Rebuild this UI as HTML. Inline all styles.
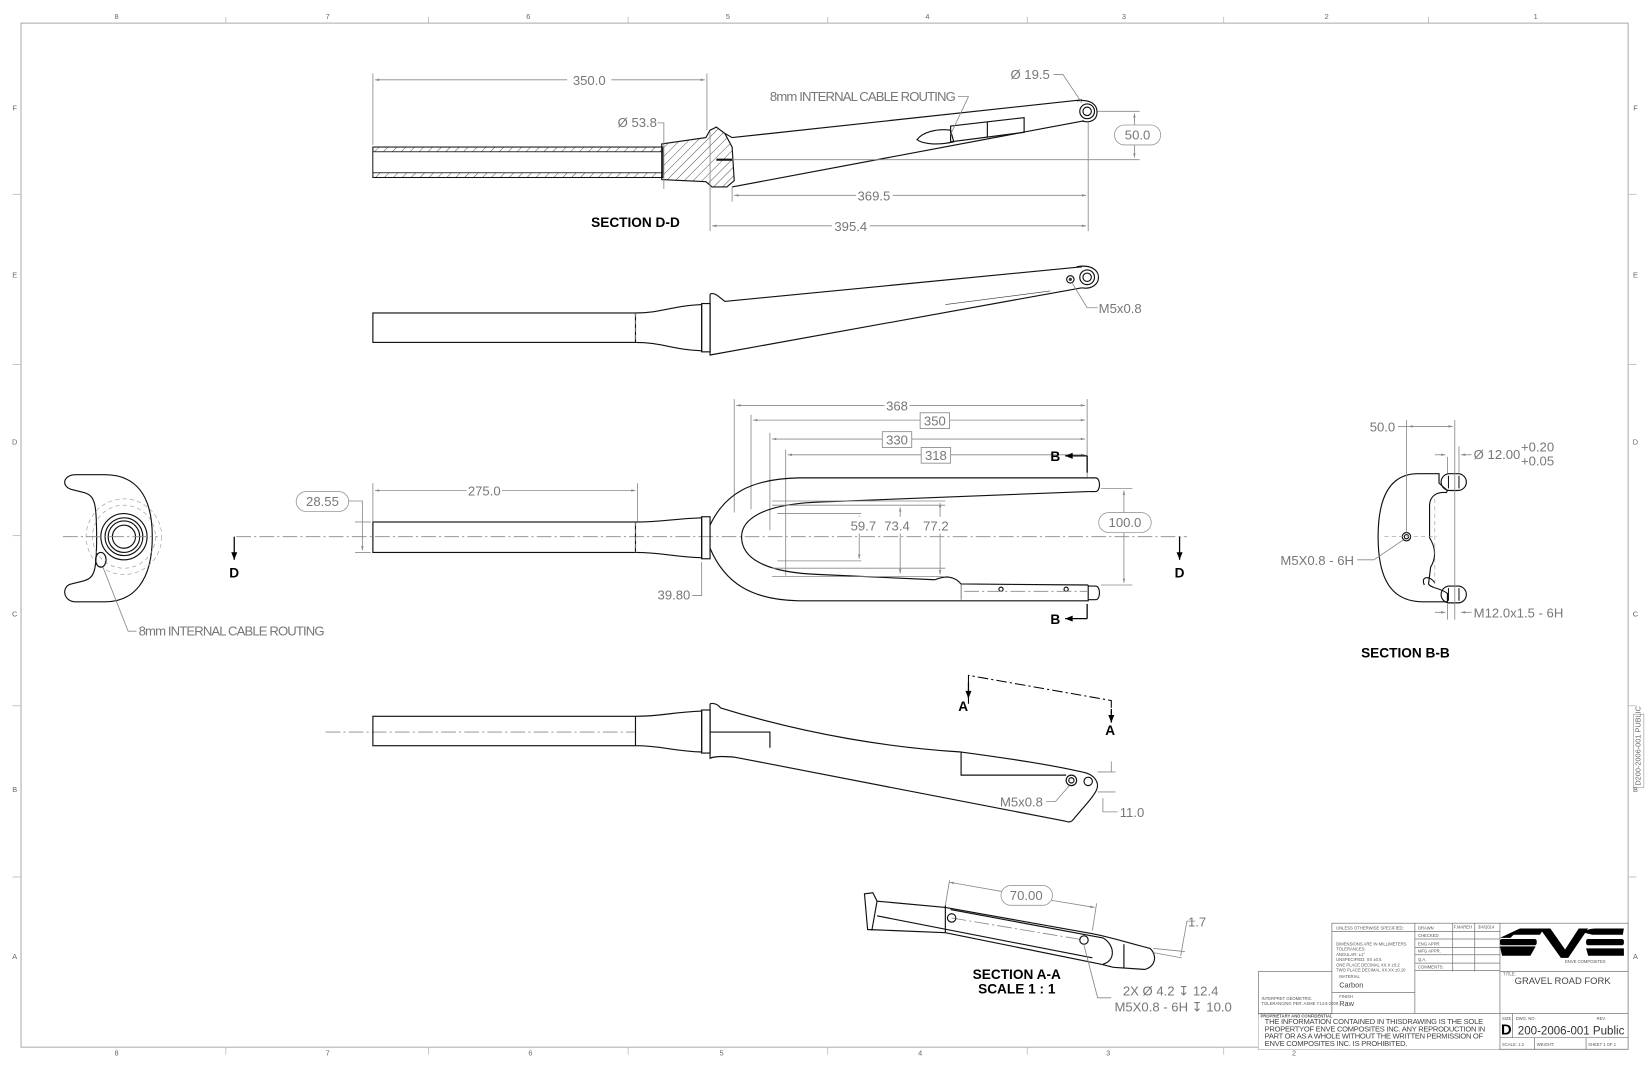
<!DOCTYPE html>
<html><head><meta charset="utf-8"><style>
html,body{margin:0;padding:0;background:#fff;}
svg{display:block;}
text{font-family:"Liberation Sans",sans-serif;}
.d{fill:#777;font-size:12.5px;}
.o{fill:none;stroke:#111;stroke-width:1.1;}
.g{fill:none;stroke:#888;stroke-width:0.8;}
.c{fill:none;stroke:#888;stroke-width:0.8;stroke-dasharray:14 3 2 3;}
.h{fill:none;stroke:#999;stroke-width:0.6;stroke-dasharray:4 3;}
.t{fill:#000;font-weight:bold;font-size:13px;}
.z{fill:#666;font-size:7px;}
.s{fill:#555;font-size:4px;}
</style></head><body>
<svg width="1647" height="1065" viewBox="0 0 1568 1014" preserveAspectRatio="none">
<defs>
<pattern id="hat" width="6" height="6" patternUnits="userSpaceOnUse" patternTransform="rotate(45)"><line x1="0" y1="0" x2="0" y2="6" stroke="#333" stroke-width="0.8"/></pattern>
<marker id="ar" viewBox="0 0 10 10" refX="10" refY="5" markerWidth="7" markerHeight="5" orient="auto-start-reverse"><path d="M0,2 L10,5 L0,8z" fill="#888"/></marker>
<marker id="ab" viewBox="0 0 10 10" refX="10" refY="5" markerWidth="8" markerHeight="6" orient="auto"><path d="M0,1 L10,5 L0,9z" fill="#000"/></marker>
</defs>
<!-- border -->
<rect x="20" y="22" width="1530" height="975" fill="none" stroke="#999" stroke-width="0.8"/>
<g stroke="#bbb" stroke-width="0.8">
<line x1="215" y1="16" x2="215" y2="22"/><line x1="408" y1="16" x2="408" y2="22"/><line x1="598" y1="16" x2="598" y2="22"/><line x1="788" y1="16" x2="788" y2="22"/><line x1="978" y1="16" x2="978" y2="22"/><line x1="1165" y1="16" x2="1165" y2="22"/><line x1="1360" y1="16" x2="1360" y2="22"/>
<line x1="215" y1="997" x2="215" y2="1004"/><line x1="408" y1="997" x2="408" y2="1004"/><line x1="598" y1="997" x2="598" y2="1004"/><line x1="788" y1="997" x2="788" y2="1004"/><line x1="978" y1="997" x2="978" y2="1004"/><line x1="1165" y1="997" x2="1165" y2="1004"/>
<line x1="12" y1="185" x2="20" y2="185"/><line x1="12" y1="347" x2="20" y2="347"/><line x1="12" y1="510" x2="20" y2="510"/><line x1="12" y1="672" x2="20" y2="672"/><line x1="12" y1="835" x2="20" y2="835"/>
<line x1="1550" y1="185" x2="1558" y2="185"/><line x1="1550" y1="347" x2="1558" y2="347"/><line x1="1550" y1="672" x2="1558" y2="672"/><line x1="1550" y1="835" x2="1558" y2="835"/>
</g>
<g class="z" text-anchor="middle">
<text x="111" y="18">8</text><text x="312" y="18">7</text><text x="503" y="18">6</text><text x="693" y="18">5</text><text x="883" y="18">4</text><text x="1070" y="18">3</text><text x="1263" y="18">2</text><text x="1462" y="18">1</text>
<text x="111" y="1005">8</text><text x="312" y="1005">7</text><text x="505" y="1005">6</text><text x="687" y="1005">5</text><text x="876" y="1005">4</text><text x="1055" y="1005">3</text><text x="1232" y="1005">2</text>
<text x="14" y="105">F</text><text x="14" y="264">E</text><text x="14" y="423">D</text><text x="14" y="587">C</text><text x="14" y="754">B</text><text x="14" y="913">A</text>
<text x="1557" y="105">F</text><text x="1557" y="264">E</text><text x="1557" y="423">D</text><text x="1557" y="587">C</text><text x="1557" y="754">B</text><text x="1557" y="913">A</text>
</g>
<rect x="1555" y="680" width="10" height="70" fill="none" stroke="#999" stroke-width="0.6"/>
<text x="0" y="0" class="z" transform="translate(1562,748) rotate(-90)" font-size="6">D200-2006-001 PUBLIC</text>

<!-- ===== SECTION D-D ===== -->
<line class="g" x1="355" y1="70" x2="355" y2="138"/><line class="g" x1="673" y1="70" x2="673" y2="124"/>
<line class="g" x1="357" y1="76" x2="540" y2="76" marker-start="url(#ar)"/><line class="g" x1="582" y1="76" x2="671" y2="76" marker-end="url(#ar)"/>
<text class="d" x="561" y="81" text-anchor="middle">350.0</text>
<rect x="355" y="140" width="276" height="29" fill="url(#hat)" stroke="#111" stroke-width="1"/>
<rect x="355" y="144.5" width="276" height="20" fill="#fff" stroke="#111" stroke-width="0.8"/>
<path d="M630,137 L672,131 L676,124 L682,121 L690,127 L697,140 L699,172 L692,178 L678,178 L672,173 L630,171 Z" fill="url(#hat)" stroke="#111" stroke-width="1.1"/>
<line x1="682" y1="152" x2="697" y2="152" stroke="#111" stroke-width="2"/>
<text class="d" x="588" y="121">Ø 53.8</text>
<polyline class="g" points="626,117 632,117 632,180"/>
<path class="o" d="M690,127 L697,131 L1030,95 M697,178 L1032,115"/>
<path class="o" d="M1025,96 C1040,94 1046,101 1044,110 C1042,116 1035,117 1030,115"/>
<circle class="o" cx="1035" cy="106" r="7"/><circle class="o" cx="1035" cy="106" r="4"/>
<path class="o" d="M873,133 C878,126 892,122 905,124 L908,135 C895,138 880,138 873,133 Z"/>
<path class="o" d="M905,120 L975,112 L975,126 L905,135 Z"/>
<line class="o" x1="940" y1="116" x2="940" y2="131"/>
<line class="g" x1="697" y1="152" x2="1085" y2="152"/>
<line class="g" x1="1045" y1="106" x2="1085" y2="106"/>
<line class="g" x1="1080" y1="108" x2="1080" y2="150" marker-start="url(#ar)" marker-end="url(#ar)"/>
<rect x="1061" y="119" width="44" height="19" rx="9.5" fill="#fff" stroke="#999" stroke-width="0.8"/>
<text class="d" x="1083" y="133" text-anchor="middle">50.0</text>
<text class="d" x="962" y="75">Ø 19.5</text>
<polyline class="g" points="1003,71 1012,71 1030,98"/>
<text class="d" x="733" y="96" font-size="11.5" textLength="177">8mm INTERNAL CABLE ROUTING</text>
<polyline class="g" points="912,92 922,92 905,128"/>
<line class="g" x1="697" y1="178" x2="697" y2="192"/><line class="g" x1="676" y1="126" x2="676" y2="220"/><line class="g" x1="1036" y1="116" x2="1036" y2="220"/>
<line class="g" x1="699" y1="186" x2="815" y2="186" marker-start="url(#ar)"/><line class="g" x1="850" y1="186" x2="1034" y2="186" marker-end="url(#ar)"/>
<text class="d" x="832" y="191" text-anchor="middle">369.5</text>
<line class="g" x1="678" y1="215" x2="792" y2="215" marker-start="url(#ar)"/><line class="g" x1="828" y1="215" x2="1034" y2="215" marker-end="url(#ar)"/>
<text class="d" x="810" y="220" text-anchor="middle">395.4</text>
<text class="t" x="605" y="216" text-anchor="middle">SECTION D-D</text>

<!-- ===== SIDE VIEW 2 ===== -->
<rect class="o" x="355" y="298" width="250" height="28"/>
<path class="o" d="M605,298 C630,298 640,291 668,290 L668,334 C640,333 630,326 605,326"/>
<line class="h" x1="605" y1="298" x2="605" y2="326"/>
<rect class="o" x="668" y="289" width="8" height="46"/>
<path class="o" d="M676,280 C680,278 684,282 690,287 L1030,254 M676,280 L676,338 L1030,274"/>
<path class="o" d="M1025,254 C1042,251 1048,260 1045,268 C1042,274 1035,275 1030,274"/>
<circle class="o" cx="1035" cy="264" r="7"/><circle class="o" cx="1035" cy="264" r="4"/>
<circle class="o" cx="1019" cy="266" r="3.5"/><circle cx="1019" cy="266" r="1.5" fill="#333"/>
<line x1="900" y1="290" x2="1000" y2="277" stroke="#333" stroke-width="0.6"/>
<polyline class="g" points="1021,270 1035,293 1045,293"/>
<text class="d" x="1046" y="298">M5x0.8</text>

<!-- ===== TOP VIEW ===== -->
<line class="g" x1="699" y1="380" x2="699" y2="488"/><line class="g" x1="715" y1="395" x2="715" y2="485"/><line class="g" x1="733" y1="412" x2="733" y2="505"/><line class="g" x1="748" y1="428" x2="748" y2="548"/><line class="g" x1="1035" y1="380" x2="1035" y2="455"/>
<line class="g" x1="701" y1="386" x2="842" y2="386" marker-start="url(#ar)"/><line class="g" x1="866" y1="386" x2="1033" y2="386" marker-end="url(#ar)"/>
<text class="d" x="854" y="391" text-anchor="middle">368</text>
<line class="g" x1="717" y1="400" x2="876" y2="400" marker-start="url(#ar)"/><line class="g" x1="904" y1="400" x2="1033" y2="400" marker-end="url(#ar)"/>
<rect x="876" y="393" width="28" height="15" fill="#fff" stroke="#888" stroke-width="0.8"/><text class="d" x="890" y="405" text-anchor="middle">350</text>
<line class="g" x1="735" y1="418" x2="840" y2="418" marker-start="url(#ar)"/><line class="g" x1="868" y1="418" x2="1033" y2="418" marker-end="url(#ar)"/>
<rect x="840" y="411" width="28" height="15" fill="#fff" stroke="#888" stroke-width="0.8"/><text class="d" x="854" y="423" text-anchor="middle">330</text>
<line class="g" x1="750" y1="433" x2="877" y2="433" marker-start="url(#ar)"/><line class="g" x1="905" y1="433" x2="1033" y2="433" marker-end="url(#ar)"/>
<rect x="877" y="426" width="28" height="15" fill="#fff" stroke="#888" stroke-width="0.8"/><text class="d" x="891" y="438" text-anchor="middle">318</text>
<!-- B markers -->
<line x1="1035" y1="434" x2="1035" y2="450" stroke="#000" stroke-width="1.2"/><line x1="1035" y1="434" x2="1014" y2="434" stroke="#000" stroke-width="1.2" marker-end="url(#ab)"/>
<text class="t" x="1000" y="439" font-size="12">B</text>
<line x1="1035" y1="575" x2="1035" y2="589" stroke="#000" stroke-width="1.2"/><line x1="1035" y1="589" x2="1014" y2="589" stroke="#000" stroke-width="1.2" marker-end="url(#ab)"/>
<text class="t" x="1000" y="594" font-size="12">B</text>
<!-- centerline & D -->
<line class="c" x1="225" y1="511" x2="1130" y2="511"/>
<line x1="223" y1="511" x2="223" y2="533" stroke="#000" stroke-width="1.2" marker-end="url(#ab)"/><text class="t" x="223" y="550" text-anchor="middle" font-size="12">D</text>
<line x1="1123" y1="511" x2="1123" y2="533" stroke="#000" stroke-width="1.2" marker-end="url(#ab)"/><text class="t" x="1123" y="550" text-anchor="middle" font-size="12">D</text>
<!-- steerer -->
<rect class="o" x="355" y="497" width="250" height="29"/>
<path class="o" d="M605,497 C630,497 640,494 668,493 L668,531 C640,530 630,526 605,526"/>
<line class="h" x1="605" y1="497" x2="605" y2="526"/>
<rect class="o" x="668" y="492" width="8" height="40"/>
<!-- fork -->
<path class="o" d="M676,500 C690,470 715,456 760,455 L1036,455 M1036,468 L780,478 C725,480 706,495 706,511 C706,530 725,545 780,547 L890,552 M1036,557 L1036,572 L760,572 C715,571 690,555 676,522"/>
<path class="o" d="M890,552 C900,548 908,548 915,556 L1036,557"/>
<path class="o" d="M1036,455 L1043,455 C1048,455 1048,468 1043,468 L1036,468 M1036,558 L1043,558 C1048,558 1048,571 1043,571 L1036,571"/>
<line x1="915" y1="556" x2="915" y2="571" stroke="#333" stroke-width="0.6"/>
<circle class="o" cx="953" cy="561" r="2"/><circle class="o" cx="1015" cy="561" r="2"/>
<line class="c" x1="918" y1="563" x2="1035" y2="563"/>
<!-- 28.55 -->
<line class="g" x1="338" y1="497" x2="353" y2="497"/><line class="g" x1="338" y1="526" x2="353" y2="526"/>
<line class="g" x1="345" y1="480" x2="345" y2="524" marker-end="url(#ar)"/>
<rect x="282" y="468" width="50" height="19" rx="9.5" fill="#fff" stroke="#999" stroke-width="0.8"/>
<text class="d" x="307" y="482" text-anchor="middle">28.55</text>
<polyline class="g" points="332,477 345,477 345,480"/>
<line class="g" x1="355" y1="460" x2="355" y2="496"/><line class="g" x1="607" y1="460" x2="607" y2="496"/>
<line class="g" x1="357" y1="467" x2="444" y2="467" marker-start="url(#ar)"/><line class="g" x1="478" y1="467" x2="605" y2="467" marker-end="url(#ar)"/>
<text class="d" x="461" y="472" text-anchor="middle">275.0</text>
<text class="d" x="626" y="571">39.80</text>
<polyline class="g" points="659,567 668,567 668,535"/>
<!-- inner dims -->
<g class="g">
<line x1="735" y1="481" x2="900" y2="481"/><line x1="735" y1="541" x2="900" y2="541"/>
<line x1="740" y1="489" x2="820" y2="489"/><line x1="740" y1="534" x2="820" y2="534"/>
<line x1="818" y1="491" x2="818" y2="532" marker-start="url(#ar)" marker-end="url(#ar)"/>
<line x1="857" y1="483" x2="857" y2="546" marker-start="url(#ar)" marker-end="url(#ar)"/>
<line x1="735" y1="477" x2="900" y2="477"/><line x1="735" y1="549" x2="900" y2="549"/>
<line x1="895" y1="479" x2="895" y2="547" marker-start="url(#ar)" marker-end="url(#ar)"/>
</g>
<rect x="808" y="492" width="96" height="16" fill="#fff"/>
<text class="d" x="822" y="505" text-anchor="middle">59.7</text><text class="d" x="854" y="505" text-anchor="middle">73.4</text><text class="d" x="891" y="505" text-anchor="middle">77.2</text>
<line class="g" x1="1048" y1="465" x2="1078" y2="465"/><line class="g" x1="1048" y1="557" x2="1078" y2="557"/>
<line class="g" x1="1070" y1="467" x2="1070" y2="555" marker-start="url(#ar)" marker-end="url(#ar)"/>
<rect x="1046" y="488" width="50" height="19" rx="9.5" fill="#fff" stroke="#999" stroke-width="0.8"/>
<text class="d" x="1071" y="502" text-anchor="middle">100.0</text>

<!-- end view left -->
<path class="o" d="M72,452 L100,452 C128,452 145,470 145,511 C145,552 128,573 100,573 L72,573 C60,573 58,558 68,556 L80,553 C90,550 92,544 92,511 C92,478 90,472 80,469 L68,466 C58,463 60,452 72,452 Z"/>
<circle class="h" cx="118" cy="511" r="30"/><circle class="h" cx="118" cy="511" r="36"/>
<circle class="o" cx="118" cy="511" r="22"/><circle class="o" cx="118" cy="511" r="18"/><circle class="o" cx="118" cy="511" r="15"/><circle class="o" cx="118" cy="511" r="11"/>
<ellipse class="o" cx="96" cy="533" rx="5" ry="7"/>
<line class="c" x1="60" y1="511" x2="150" y2="511"/>
<polyline class="g" points="98,540 122,601 130,601"/>
<text class="d" x="132" y="605" font-size="11.5" textLength="177">8mm INTERNAL CABLE ROUTING</text>

<!-- ===== SIDE VIEW 4 ===== -->
<line class="c" x1="310" y1="697" x2="605" y2="697"/>
<rect class="o" x="355" y="682" width="250" height="28"/>
<path class="o" d="M605,682 C630,682 640,678 668,677 L668,716 C640,715 630,710 605,710"/>
<rect class="o" x="668" y="676" width="8" height="41"/>
<path class="o" d="M676,670 C680,669 684,671 686,674 C770,700 850,712 915,716 C960,722 1000,728 1030,735"/>
<path class="o" d="M676,670 L676,722 C680,720 690,720 700,721 L1015,782"/>
<path class="o" d="M1030,735 C1042,737 1047,745 1044,752 C1040,760 1032,768 1022,780 C1020,783 1017,783 1015,782"/>
<path class="o" d="M915,716 L915,738 L1015,738"/>
<path class="o" d="M676,697 L733,697 L733,712"/>
<circle class="o" cx="1020" cy="743" r="5"/><circle class="o" cx="1020" cy="743" r="2.5"/><circle class="o" cx="1036" cy="744" r="4"/>
<polyline class="g" points="1018,748 1005,763 996,763"/>
<text class="d" x="952" y="768">M5x0.8</text>
<polyline class="g" points="1045,735 1062,735"/><polyline class="g" points="1045,754 1062,754"/>
<polyline class="g" points="1058,725 1058,735"/><polyline class="g" points="1050,760 1050,773 1064,773"/>
<text class="d" x="1066" y="778">11.0</text>
<!-- A-A line -->
<polyline points="922,670 922,643 1058,667 1058,685" fill="none" stroke="#000" stroke-width="1" stroke-dasharray="10 3 2 3"/>
<line x1="922" y1="650" x2="922" y2="665" stroke="#000" stroke-width="1.2" marker-end="url(#ab)"/>
<line x1="1058" y1="675" x2="1058" y2="688" stroke="#000" stroke-width="1.2" marker-end="url(#ab)"/>
<text class="t" x="917" y="677" text-anchor="middle" font-size="12">A</text><text class="t" x="1057" y="700" text-anchor="middle" font-size="12">A</text>

<!-- ===== SECTION A-A ===== -->
<path class="o" d="M823,851 L831,850 L835,858 L900,864 L1040,889 C1060,893 1075,898 1095,903 C1102,910 1100,920 1090,923 L1060,921 L1048,918 L900,888 L826,885 Z"/>
<line class="o" x1="835" y1="858" x2="830" y2="886"/>
<line class="o" x1="900" y1="862" x2="900" y2="888"/>
<line class="o" x1="835" y1="872" x2="1040" y2="912"/>
<line class="o" x1="905" y1="866" x2="1050" y2="893"/>
<path class="o" d="M1050,893 C1062,900 1062,915 1050,918"/>
<line class="o" x1="1070" y1="899" x2="1070" y2="922"/>
<line class="c" x1="906" y1="874" x2="1032" y2="895"/>
<circle class="o" cx="906" cy="874" r="4"/><circle class="o" cx="1032" cy="895" r="4"/>
<line class="g" x1="900" y1="862" x2="904" y2="838"/><line class="g" x1="1040" y1="886" x2="1044" y2="860"/>
<line class="g" x1="904" y1="840" x2="955" y2="849" marker-start="url(#ar)"/><line class="g" x1="1000" y1="857" x2="1042" y2="864" marker-end="url(#ar)"/>
<rect x="953" y="843" width="49" height="19" rx="9.5" fill="#fff" stroke="#999" stroke-width="0.8"/>
<text class="d" x="977" y="857" text-anchor="middle">70.00</text>
<polyline class="g" points="1138,877 1130,877 1124,910"/>
<line class="g" x1="1098" y1="907" x2="1125" y2="912"/><line class="g" x1="1098" y1="903" x2="1128" y2="906"/>
<text class="d" x="1131" y="882">1.7</text>
<polyline class="g" points="1032,900 1045,950 1058,950"/>
<text class="d" x="1069" y="948">2X  Ø  4.2  ↧  12.4</text>
<text class="d" x="1061" y="963">M5X0.8 - 6H  ↧  10.0</text>
<text class="t" x="968" y="932" text-anchor="middle">SECTION A-A</text>
<text class="t" x="968" y="946" text-anchor="middle">SCALE 1 : 1</text>

<!-- ===== SECTION B-B ===== -->
<path class="o" d="M1370,451 L1350,451 C1325,451 1312,470 1312,511 C1312,552 1325,573 1355,573 L1378,573 L1378,565 C1372,560 1362,560 1360,556 L1362,540 C1368,530 1366,520 1361,512 L1361,480 C1362,472 1368,468 1377,469 L1378,467 L1370,460 Z"/>
<rect class="o" x="1372" y="451" width="24" height="16" rx="8"/><rect class="o" x="1372" y="558" width="24" height="16" rx="8"/>
<line x1="1379" y1="453" x2="1379" y2="465" stroke="#111"/><line x1="1389" y1="453" x2="1389" y2="465" stroke="#111"/>
<line x1="1379" y1="560" x2="1379" y2="572" stroke="#111"/><line x1="1389" y1="560" x2="1389" y2="572" stroke="#111"/>
<path class="o" d="M1356,557 C1352,548 1362,548 1366,555"/>
<circle class="o" cx="1339" cy="511" r="4"/><circle class="o" cx="1339" cy="511" r="2"/>
<line class="h" x1="1318" y1="511" x2="1368" y2="511"/><line class="h" x1="1366" y1="475" x2="1366" y2="560"/>
<line class="g" x1="1339" y1="400" x2="1339" y2="507"/><line class="g" x1="1385" y1="400" x2="1385" y2="590"/>
<line class="g" x1="1341" y1="406" x2="1383" y2="406" marker-start="url(#ar)" marker-end="url(#ar)"/>
<polyline class="g" points="1331,406 1341,406"/>
<text class="d" x="1304" y="411">50.0</text>
<line class="g" x1="1378" y1="435" x2="1378" y2="451"/><line class="g" x1="1389" y1="425" x2="1389" y2="450"/>
<line class="g" x1="1366" y1="433" x2="1376" y2="433" marker-end="url(#ar)"/><line class="g" x1="1401" y1="433" x2="1391" y2="433" marker-end="url(#ar)"/>
<text class="d" x="1403" y="437">Ø 12.00</text>
<text class="d" x="1448" y="430" font-size="11.5">+0.20</text><text class="d" x="1448" y="443" font-size="11.5">+0.05</text>
<line class="g" x1="1366" y1="583" x2="1376" y2="583" marker-end="url(#ar)"/><line class="g" x1="1401" y1="583" x2="1391" y2="583" marker-end="url(#ar)"/>
<line class="g" x1="1378" y1="575" x2="1378" y2="590"/>
<text class="d" x="1403" y="588">M12.0x1.5 - 6H</text>
<polyline class="g" points="1292,533 1308,533 1336,514"/>
<text class="d" x="1219" y="538">M5X0.8 - 6H</text>
<text class="t" x="1338" y="626" text-anchor="middle">SECTION B-B</text>

<!-- ===== TITLE BLOCK ===== -->
<g fill="none" stroke="#777" stroke-width="0.7">
<rect x="1198" y="925" width="352" height="74" fill="#fff"/>
<rect x="1268" y="879" width="282" height="120" fill="#fff"/>
<line x1="1268" y1="887" x2="1428" y2="887"/>
<line x1="1347" y1="879" x2="1347" y2="965"/>
<line x1="1383" y1="879" x2="1383" y2="925"/><line x1="1404" y1="879" x2="1404" y2="925"/>
<line x1="1428" y1="879" x2="1428" y2="999"/>
<line x1="1347" y1="894" x2="1428" y2="894"/><line x1="1347" y1="902" x2="1428" y2="902"/><line x1="1347" y1="909" x2="1428" y2="909"/><line x1="1347" y1="917" x2="1428" y2="917"/><line x1="1347" y1="924" x2="1428" y2="924"/>
<line x1="1268" y1="945" x2="1347" y2="945"/>
<line x1="1198" y1="965" x2="1428" y2="965"/>
<line x1="1428" y1="925" x2="1550" y2="925"/>
<line x1="1428" y1="965" x2="1550" y2="965"/>
<line x1="1440" y1="965" x2="1440" y2="988"/>
<line x1="1428" y1="988" x2="1550" y2="988"/>
<line x1="1461" y1="988" x2="1461" y2="999"/><line x1="1510" y1="988" x2="1510" y2="999"/>
</g>
<line x1="1198" y1="965" x2="1268" y2="965" stroke="#777" stroke-width="0.7"/>
<rect x="1198" y="966" width="229" height="33" fill="#fff"/>
<g class="s">
<text x="1272" y="885">UNLESS OTHERWISE SPECIFIED:</text>
<text x="1272" y="900">DIMENSIONS ARE IN MILLIMETERS</text>
<text x="1272" y="905">TOLERANCES:</text><text x="1272" y="910">ANGULAR: ±1°</text><text x="1272" y="915">UNSPECIFIED: XX  ±0.5</text><text x="1272" y="920">ONE PLACE DECIMAL XX.X ±0.2</text><text x="1272" y="925">TWO PLACE DECIMAL XX.XX ±0.10</text>
<text x="1275" y="931">MATERIAL</text><text x="1275" y="950">FINISH</text>
<text x="1201" y="952">INTERPRET GEOMETRIC</text><text x="1201" y="957">TOLERANCING PER: ASME Y14.5-2009</text>
<text x="1350" y="885">DRAWN</text><text x="1350" y="892">CHECKED</text><text x="1350" y="900">ENG APPR.</text><text x="1350" y="907">MFG APPR.</text><text x="1350" y="915">Q.A.</text><text x="1350" y="922">COMMENTS:</text>
<text x="1384" y="884">F.MAREH</text><text x="1407" y="884">3/4/2014</text>
<text x="1200" y="969" font-weight="bold">PROPRIETARY AND CONFIDENTIAL</text>
</g>
<text x="1275" y="940" fill="#444" font-size="7">Carbon</text>
<text x="1275" y="958" fill="#444" font-size="7">Raw</text>
<g fill="#444" font-size="7.2">
<text x="1204" y="975" textLength="208">THE INFORMATION CONTAINED IN THISDRAWING IS THE SOLE</text>
<text x="1204" y="982" textLength="210">PROPERTYOF ENVE COMPOSITES INC. ANY REPRODUCTION IN</text>
<text x="1204" y="989" textLength="208">PART OR AS A WHOLE WITHOUT THE WRITTEN PERMISSION OF</text>
<text x="1204" y="996" textLength="136">ENVE COMPOSITES INC. IS PROHIBITED.</text>
</g>
<!-- ENVE logo -->
<g fill="#000">
<path d="M1428,893 L1447,884 L1470,884 L1466,890 L1441,890 L1438,893 Z"/>
<rect x="1428" y="894" width="35" height="6" rx="2"/>
<path d="M1428,901 L1462,901 L1457,910 L1430,910 Z"/>
<path d="M1466,884 L1476,884 L1490,904 L1503,884 L1512,884 L1493,912 L1486,912 Z"/>
<path d="M1508,888 C1512,884 1516,884 1520,884 L1546,884 L1545,890 L1516,890 Z"/>
<rect x="1510" y="894" width="36" height="6" rx="2"/>
<path d="M1510,903 L1546,903 L1546,910 L1512,910 Z"/>
</g>
<text x="1490" y="917" font-size="4" fill="#555">ENVE COMPOSITES</text>
<text x="1431" y="929" class="s" font-size="5">TITLE:</text>
<text x="1442" y="937" fill="#444" font-size="9">GRAVEL ROAD FORK</text>
<text x="1430" y="971" class="s" font-size="5">SIZE</text><text x="1443" y="971" class="s" font-size="5">DWG. NO.</text><text x="1520" y="971" class="s" font-size="5">REV</text>
<text x="1429" y="985" fill="#000" font-weight="bold" font-size="14">D</text>
<text x="1445" y="985" fill="#333" font-size="11">200-2006-001 Public</text>
<text x="1430" y="996" class="s" font-size="5">SCALE: 1:2</text><text x="1463" y="996" class="s" font-size="5">WEIGHT:</text><text x="1512" y="996" class="s" font-size="5">SHEET 1 OF 1</text>
</svg>
</body></html>
